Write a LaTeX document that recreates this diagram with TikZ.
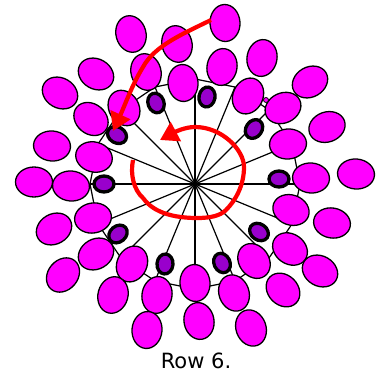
\documentclass[tikz,border=0pt]{standalone}
\usepackage{fontspec}
\setmainfont{DejaVu Sans}
\usetikzlibrary{arrows.meta}
\usetikzlibrary{shapes.geometric}
\definecolor{petalfill}{RGB}{255, 0, 255}
\definecolor{budfill}{RGB}{153, 0, 204}
\tikzset{
  petal/.style = {ellipse, draw = black, fill = petalfill, line width = 1.3pt, minimum width = 37pt, minimum height = 30pt, inner sep = 0pt},
  bud/.style = {ellipse, draw = black, fill = budfill, line width = 3.3pt, minimum width = 20pt, minimum height = 16pt, inner sep = 0pt},
  spoke/.style = {draw = black, line width = 1.2pt},
  spiral/.style = {draw = red, line width = 4.2pt}
}

\begin{document}
\begin{tikzpicture}[x = 1pt, y = -1pt]
  \useasboundingbox (0, 0) rectangle (385, 374);

  \coordinate (hub) at (195, 184);
  \coordinate (r0) at (300, 184);
  \coordinate (r1) at (292, 144);
  \coordinate (r2) at (269, 110);
  \coordinate (r3) at (235, 87);
  \coordinate (r4) at (195, 79);
  \coordinate (r5) at (155, 87);
  \coordinate (r6) at (121, 110);
  \coordinate (r7) at (98, 144);
  \coordinate (r8) at (90, 184);
  \coordinate (r9) at (98, 224);
  \coordinate (r10) at (121, 258);
  \coordinate (r11) at (155, 281);
  \coordinate (r12) at (195, 289);
  \coordinate (r13) at (235, 281);
  \coordinate (r14) at (269, 258);
  \coordinate (r15) at (292, 224);

  \draw[spoke] (hub) -- (r0);
  \draw[spoke] (hub) -- (r1);
  \draw[spoke] (hub) -- (r2);
  \draw[spoke] (hub) -- (r3);
  \draw[spoke] (hub) -- (r4);
  \draw[spoke] (hub) -- (r5);
  \draw[spoke] (hub) -- (r6);
  \draw[spoke] (hub) -- (r7);
  \draw[spoke] (hub) -- (r8);
  \draw[spoke] (hub) -- (r9);
  \draw[spoke] (hub) -- (r10);
  \draw[spoke] (hub) -- (r11);
  \draw[spoke] (hub) -- (r12);
  \draw[spoke] (hub) -- (r13);
  \draw[spoke] (hub) -- (r14);
  \draw[spoke] (hub) -- (r15);

  \draw[spoke] (r0) -- (r1) -- (r2) -- (r3) -- (r4) -- (r5) -- (r6) -- (r7) -- (r8)
    -- (r9) -- (r10) -- (r11) -- (r12) -- (r13) -- (r14) -- (r15) -- cycle;

  \node[bud, rotate = 0] (bud0) at (279, 179) {};
  \node[bud, rotate = 55] (bud1) at (254, 129) {};
  \node[bud, rotate = 80] (bud2) at (207, 97) {};
  \node[bud, rotate = 110] (bud3) at (156, 103) {};
  \node[bud, rotate = 150] (bud4) at (117, 135) {};
  \node[bud, rotate = 0] (bud5) at (104, 184) {};
  \node[bud, rotate = 40] (bud6) at (118, 234) {};
  \node[bud, rotate = 85] (bud7) at (165, 264) {};
  \node[bud, rotate = 115] (bud8) at (222, 263) {};
  \node[bud, rotate = 145] (bud9) at (259, 232) {};

  \coordinate (turnstart) at (211, 20);
  \coordinate (turnend) at (113, 131);
  \coordinate (loopstart) at (133, 160);
  \coordinate (loopend) at (160, 140);

  \node[petal, rotate = 105] (tl0) at (131, 34) {};
  \node[petal, rotate = 105] (tl1) at (177, 44) {};
  \node[petal, rotate = 105] (tl2) at (146, 72) {};
  \node[petal, rotate = 95] (tl3) at (183, 83) {};
  \node[petal, rotate = 150] (tl4) at (96, 74) {};
  \node[petal, rotate = 150] (tl5) at (60, 93) {};
  \node[petal, rotate = 120] (tl6) at (124, 108) {};
  \node[petal, rotate = 140] (tl7) at (91, 119) {};
  \node[petal, rotate = 175] (tl8) at (52, 146) {};
  \node[petal, rotate = 165] (tl9) at (94, 157) {};
  \node[petal, rotate = 0] (tl10) at (34, 182) {};
  \node[petal, rotate = 175] (tl11) at (71, 186) {};

  \node[petal, rotate = 93] (tr0) at (225, 23) {};
  \node[petal, rotate = 80] (tr1) at (222, 67) {};
  \node[petal, rotate = 80] (tr2) at (262, 58) {};
  \node[petal, rotate = 65] (tr3) at (248, 96) {};
  \node[petal, rotate = 30] (tr4) at (310, 82) {};
  \node[petal, rotate = 25] (tr5) at (283, 108) {};
  \node[petal, rotate = 20] (tr6) at (327, 127) {};
  \node[petal, rotate = 5] (tr7) at (288, 144) {};
  \node[petal, rotate = 175] (tr8) at (311, 178) {};
  \node[petal, rotate = 175] (tr9) at (356, 174) {};

  \node[petal, rotate = 30] (bl0) at (54, 229) {};
  \node[petal, rotate = 10] (bl1) at (93, 218) {};
  \node[petal, rotate = 30] (bl2) at (96, 254) {};
  \node[petal, rotate = 50] (bl3) at (63, 275) {};
  \node[petal, rotate = 65] (bl4) at (132, 264) {};
  \node[petal, rotate = 75] (bl5) at (113, 295) {};
  \node[petal, rotate = 80] (bl6) at (157, 295) {};
  \node[petal, rotate = 85] (bl7) at (147, 330) {};
  \node[petal, rotate = 95] (bl8) at (195, 283) {};
  \node[petal, rotate = 100] (bl9) at (199, 321) {};

  \node[petal, rotate = 160] (br0) at (291, 210) {};
  \node[petal, rotate = 170] (br1) at (332, 223) {};
  \node[petal, rotate = 145] (br2) at (290, 249) {};
  \node[petal, rotate = 150] (br3) at (320, 271) {};
  \node[petal, rotate = 125] (br4) at (254, 261) {};
  \node[petal, rotate = 135] (br5) at (283, 290) {};
  \node[petal, rotate = 110] (br6) at (234, 293) {};
  \node[petal, rotate = 110] (br7) at (251, 328) {};

  \node[draw = black, fill = petalfill, circle, line width = 0.8pt, minimum size = 5pt, inner sep = 0pt] (seed) at (266, 100) {};

  % the two red arrows
  \draw[spiral, -{Triangle[length = 18pt, width = 21pt]}] (loopstart)
    .. controls (130, 175) and (134, 190) .. (143, 198)
    .. controls (150, 208) and (165, 218) .. (197, 218)
    .. controls (210, 218) and (220, 216) .. (226, 210)
    .. controls (236, 200) and (244, 185) .. (244, 167)
    .. controls (244, 150) and (222, 127) .. (195, 127)
    .. controls (185, 127) and (175, 132) .. (loopend);
  \draw[spiral, -{Triangle[length = 18pt, width = 21pt]}] (turnstart)
    .. controls (185, 33) and (155, 45) .. (143, 67)
    .. controls (132, 85) and (125, 105) .. (turnend);

  \node[font = \fontsize{21}{24}\selectfont] (caption) at (196, 361) {Row 6.};
\end{tikzpicture}
\end{document}
